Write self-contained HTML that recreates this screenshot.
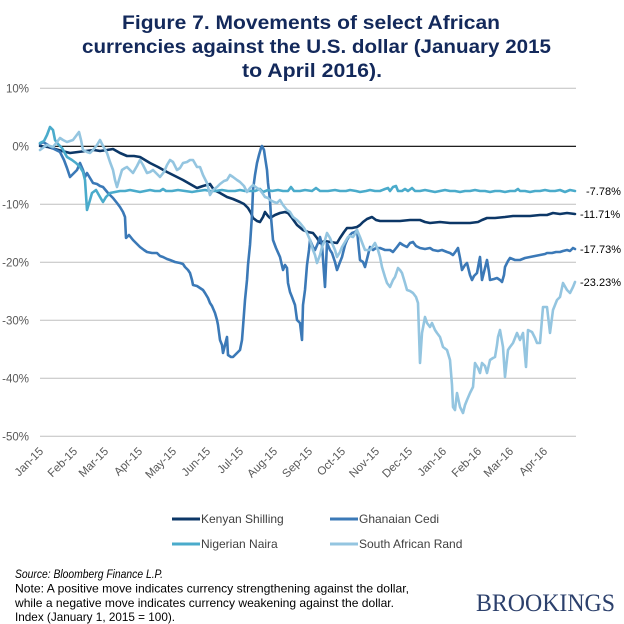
<!DOCTYPE html>
<html>
<head>
<meta charset="utf-8">
<style>
  html, body { margin: 0; padding: 0; background: #ffffff; }
  svg { display: block; }
  .t { font-family: "Liberation Sans", Arial, sans-serif; }
</style>
</head>
<body>
<svg width="624" height="624" viewBox="0 0 624 624" xmlns="http://www.w3.org/2000/svg">
  <rect x="0" y="0" width="624" height="624" fill="#ffffff"/>

  <!-- Title -->
  <g class="t" font-weight="bold" font-size="19" fill="#13295b">
    <text x="122" y="29" textLength="378" lengthAdjust="spacingAndGlyphs">Figure 7. Movements of select African</text>
    <text x="82" y="53" textLength="469" lengthAdjust="spacingAndGlyphs">currencies against the U.S. dollar (January 2015</text>
    <text x="242" y="77" textLength="140" lengthAdjust="spacingAndGlyphs">to April 2016).</text>
  </g>

  <!-- Gridlines -->
  <g stroke="#bfbfbf" stroke-width="1">
    <line x1="40" y1="88.3" x2="576" y2="88.3"/>
    <line x1="40" y1="204.3" x2="576" y2="204.3"/>
    <line x1="40" y1="262.3" x2="576" y2="262.3"/>
    <line x1="40" y1="320.3" x2="576" y2="320.3"/>
    <line x1="40" y1="378.3" x2="576" y2="378.3"/>
    <line x1="40" y1="436.3" x2="576" y2="436.3"/>
  </g>
  <line x1="40" y1="146.3" x2="576" y2="146.3" stroke="#000000" stroke-width="1.2"/>

  <!-- Y labels -->
  <g class="t" font-size="11.5" fill="#595959" text-anchor="end">
    <text x="29" y="92.3">10%</text>
    <text x="29" y="150.3">0%</text>
    <text x="29" y="208.3">-10%</text>
    <text x="29" y="266.3">-20%</text>
    <text x="29" y="324.3">-30%</text>
    <text x="29" y="382.3">-40%</text>
    <text x="29" y="440.3">-50%</text>
  </g>

  <!-- X labels -->
  <g class="t" font-size="11.5" fill="#595959" text-anchor="end">
    <text x="44" y="452" transform="rotate(-45 44 452)">Jan-15</text>
    <text x="78" y="452" transform="rotate(-45 78 452)">Feb-15</text>
    <text x="109" y="452" transform="rotate(-45 109 452)">Mar-15</text>
    <text x="143" y="452" transform="rotate(-45 143 452)">Apr-15</text>
    <text x="177" y="452" transform="rotate(-45 177 452)">May-15</text>
    <text x="211" y="452" transform="rotate(-45 211 452)">Jun-15</text>
    <text x="244" y="452" transform="rotate(-45 244 452)">Jul-15</text>
    <text x="278" y="452" transform="rotate(-45 278 452)">Aug-15</text>
    <text x="313" y="452" transform="rotate(-45 313 452)">Sep-15</text>
    <text x="346" y="452" transform="rotate(-45 346 452)">Oct-15</text>
    <text x="380" y="452" transform="rotate(-45 380 452)">Nov-15</text>
    <text x="413" y="452" transform="rotate(-45 413 452)">Dec-15</text>
    <text x="447" y="452" transform="rotate(-45 447 452)">Jan-16</text>
    <text x="482" y="452" transform="rotate(-45 482 452)">Feb-16</text>
    <text x="514" y="452" transform="rotate(-45 514 452)">Mar-16</text>
    <text x="548" y="452" transform="rotate(-45 548 452)">Apr-16</text>
  </g>

  <!-- Series -->
  <g fill="none" stroke-width="2.6" stroke-linejoin="round" stroke-linecap="round">
    <!-- Kenyan Shilling -->
    <polyline stroke="#0c3767" points="40,146 48,147 55,149 62,151 70,153 78,152 86,151 94,150 100,151 107,150 113,149 120,153 127,156 134,156 140,157 145,160 150,163 158,167 167,172 175,176 183,180 190,184 197,188 203,186 210,184 214,190 220,193 227,197 233,199 240,202 244,204 248,208 251,213 253,218 257,221 260,222 263,217 265,212 268,216 270,218 275,215 280,213 285,212 288,213 292,218 297,225 303,230 308,232 313,233 317,238 320,243 325,241 330,242 337,243 340,238 344,232 347,228 352,228 357,227 360,225 363,222 367,219 372,217 376,220 380,221 390,221 400,221 410,220 420,220 425,222 430,223 440,222 450,223 460,223 470,223 478,222 482,220 487,218 495,218 505,217 513,216 520,216 530,216 540,215 547,215 553,213 560,214 567,213 575,214"/>
    <!-- Ghanaian Cedi -->
    <polyline stroke="#3b79b7" points="40,144 43,142 48,145 52,148 56,150 60,152 64,160 67,168 70,177 73,174 77,170 80,163 83,170 85,177 87,173 90,178 93,183 97,184 100,186 103,187 108,193 113,198 117,203 120,207 123,212 125,217 126,238 129,235 133,240 137,244 140,247 144,250 147,252 152,253 157,253 160,256 163,257 167,259 170,260 175,262 180,263 183,264 185,267 188,270 190,273 192,280 193,285 197,286 200,288 203,290 205,293 208,298 210,303 212,306 215,313 217,320 218,325 220,340 222,345 223,353 225,345 227,337 228,355 231,357 233,357 235,355 237,353 240,350 242,340 243,327 245,300 247,280 248,265 250,245 252,215 253,190 255,175 257,163 259,155 261,148 262,146 264,150 265,157 267,170 268,183 270,200 271,217 273,240 276,248 280,257 283,270 285,265 287,268 288,283 290,292 292,297 295,305 297,320 300,323 302,340 303,305 305,290 307,265 309,250 310,240 313,247 315,250 318,243 320,237 322,245 325,287 327,243 330,250 332,253 335,262 337,270 340,262 342,257 345,245 347,240 350,235 352,233 355,232 357,230 360,260 363,262 365,267 368,255 370,247 373,250 376,248 380,248 385,250 390,250 393,252 397,247 400,243 403,245 407,247 410,243 413,242 416,246 420,248 425,249 430,248 433,250 438,251 442,250 447,252 450,253 453,255 456,251 458,248 460,258 462,270 465,265 467,263 470,275 472,280 474,276 477,273 479,262 480,257 482,280 485,268 487,260 489,272 490,280 494,279 497,278 500,280 502,282 504,275 505,267 508,261 510,258 515,260 520,260 525,258 530,257 535,256 540,255 545,254 547,253 552,253 556,252 560,252 563,251 567,250 570,251 573,248 575,249"/>
    <!-- Nigerian Naira -->
    <polyline stroke="#4aabcb" points="40,143 44,141 47,135 50,127 53,130 55,140 58,144 62,148 67,157 72,160 76,163 80,167 83,172 85,180 87,210 90,200 92,193 96,190 100,197 103,202 106,197 110,193 115,192 120,191 125,191 130,190 135,191 140,192 145,191 150,190 155,191 160,191 163,189 166,191 172,191 178,190 185,191 192,192 198,191 205,190 210,191 215,191 222,190 228,191 235,191 240,190 245,191 250,191 255,191 260,189 263,192 268,190 272,191 278,190 283,191 288,191 291,187 294,191 300,191 305,190 312,191 316,188 320,191 328,191 335,190 340,191 346,191 350,190 356,191 360,192 366,191 370,190 375,191 380,191 385,189 388,188 390,191 393,187 396,186 398,191 402,191 405,189 408,191 412,188 415,191 420,191 425,190 430,191 435,192 440,191 445,190 450,191 455,191 460,192 465,191 470,191 475,190 480,191 485,191 490,192 495,191 500,191 505,192 510,191 515,191 518,189 520,191 525,191 530,192 535,191 540,191 545,190 550,191 555,191 560,190 565,192 570,190 575,191"/>
    <!-- South African Rand -->
    <polyline stroke="#94c5e0" points="40,150 44,147 47,145 50,146 53,147 57,142 60,138 63,140 67,142 70,141 73,140 76,136 79,132 81,140 83,150 87,152 90,153 93,150 97,145 100,140 103,146 107,153 110,162 113,170 115,180 117,187 119,180 122,170 125,168 127,167 130,170 133,173 137,166 140,160 143,165 147,173 150,172 153,170 157,174 160,177 164,172 167,165 170,160 173,162 177,170 180,168 183,163 187,162 190,160 193,160 197,167 200,167 203,175 207,183 210,195 213,190 217,187 220,184 224,181 227,180 230,175 233,177 237,180 240,182 244,186 247,192 250,188 253,185 257,188 260,190 263,194 265,197 268,198 270,200 274,202 277,203 280,200 283,205 287,210 290,212 293,217 297,220 300,223 304,228 307,233 310,240 313,250 315,255 317,263 320,255 322,247 325,240 327,233 330,238 332,243 335,250 337,257 340,252 342,247 345,242 348,237 350,236 353,237 355,234 357,230 360,237 363,245 365,250 368,250 370,250 373,246 375,243 378,250 380,257 382,267 385,277 387,283 390,287 393,280 395,277 398,268 400,270 402,273 405,283 407,290 410,291 413,293 416,297 418,303 420,363 422,333 425,317 427,323 430,327 432,323 435,330 437,333 440,337 443,347 447,350 450,360 452,385 453,407 455,410 457,393 460,407 463,413 465,405 467,400 470,393 473,387 475,363 478,368 480,373 482,363 485,366 487,373 490,360 493,358 495,357 497,345 498,337 500,330 503,347 505,377 508,350 510,347 513,343 517,333 520,340 523,333 526,367 528,330 532,332 535,338 537,343 540,343 543,307 547,307 550,333 553,310 557,300 560,297 563,283 567,290 570,293 573,287 575,282"/>
  </g>

  <!-- End labels -->
  <g class="t" font-size="11" fill="#000000">
    <text x="586" y="195">-7.78%</text>
    <text x="580" y="218">-11.71%</text>
    <text x="580" y="253">-17.73%</text>
    <text x="580" y="286">-23.23%</text>
  </g>

  <!-- Legend -->
  <g stroke-width="3">
    <line x1="172" y1="519" x2="200" y2="519" stroke="#0c3767"/>
    <line x1="330" y1="519" x2="358" y2="519" stroke="#3b79b7"/>
    <line x1="172" y1="544" x2="200" y2="544" stroke="#4aabcb"/>
    <line x1="330" y1="544" x2="358" y2="544" stroke="#94c5e0"/>
  </g>
  <g class="t" font-size="12" fill="#404040">
    <text x="201" y="523">Kenyan Shilling</text>
    <text x="359" y="523">Ghanaian Cedi</text>
    <text x="201" y="548">Nigerian Naira</text>
    <text x="359" y="548">South African Rand</text>
  </g>

  <!-- Footer -->
  <g class="t" font-size="12" fill="#000000">
    <text x="15" y="578" font-style="italic" textLength="148" lengthAdjust="spacingAndGlyphs">Source: Bloomberg Finance L.P.</text>
    <text x="15" y="592.5" textLength="394" lengthAdjust="spacingAndGlyphs">Note: A positive move indicates currency strengthening against the dollar,</text>
    <text x="15" y="607" textLength="379" lengthAdjust="spacingAndGlyphs">while a negative move indicates currency weakening against the dollar.</text>
    <text x="15" y="621" textLength="160" lengthAdjust="spacingAndGlyphs">Index (January 1, 2015 = 100).</text>
  </g>
  <text x="476" y="611" font-family="'Liberation Serif', 'Times New Roman', serif" font-size="25" fill="#2c406c" textLength="139" lengthAdjust="spacingAndGlyphs">BROOKINGS</text>
</svg>
</body>
</html>
